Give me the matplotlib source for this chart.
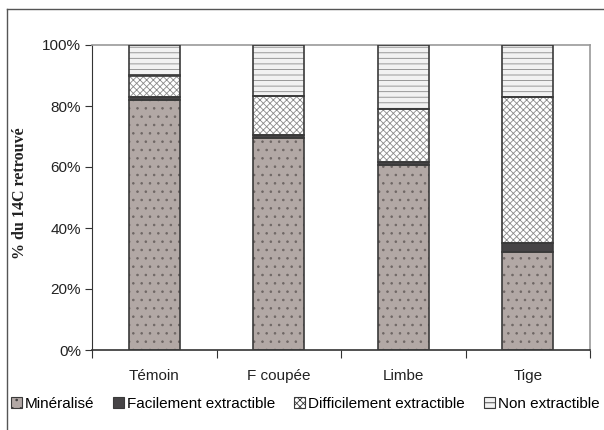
import matplotlib
matplotlib.use('Agg')
import matplotlib.pyplot as plt
from matplotlib.lines import Line2D
from matplotlib.patches import Patch
import numpy as np

categories = ['Témoin', 'F coupée', 'Limbe', 'Tige']
series = ['Minéralisé', 'Facilement extractible', 'Difficilement extractible', 'Non extractible']
mineralise = [82.0, 69.5, 60.5, 32.0]
facile = [1.0, 1.0, 1.0, 3.0]
difficile = [7.0, 12.8, 17.5, 48.0]
non_extr = [10.0, 16.7, 21.0, 17.0]
yticks = [0, 20, 40, 60, 80, 100]

fills = ['#b2a8a5', '#464446', '#ffffff', '#f2f2f2']
hatches = ['..', '', 'xxxxx', '---']
hatch_cols = ['#6e6664', '#464446', '#8a8a8a', '#8a8a8a']

plt.rcParams['font.family'] = ['Liberation Sans', 'DejaVu Sans']
plt.rcParams['hatch.linewidth'] = 0.6

fig = plt.figure(figsize=(6.04, 4.30), dpi=100)
ax = fig.add_axes([92 / 604, 1 - 350 / 430, 498 / 604, 305 / 430])

x = np.arange(len(categories))
width = 0.41
bottom = np.zeros(len(categories))
for vals, fc, h, hc in zip([mineralise, facile, difficile, non_extr], fills, hatches, hatch_cols):
    vals = np.array(vals)
    ax.bar(x, vals, width, bottom=bottom, color=fc, edgecolor=hc, hatch=h, linewidth=0, zorder=2)
    ax.bar(x, vals, width, bottom=bottom, fill=False, edgecolor='#3a3a3a', linewidth=1.2, zorder=3)
    bottom += vals

fs = 11
ax.set_xlim(-0.5, len(categories) - 0.5)
ax.set_ylim(0, 100)
ax.set_yticks(yticks)
ax.set_yticklabels([f'{v}%' for v in yticks], fontsize=fs, color='#222222')
ax.set_xticks(np.arange(-0.5, len(categories), 1.0))
ax.set_xticklabels([])
ax.set_xticks(x, minor=True)
ax.set_xticklabels(categories, minor=True, fontsize=fs, color='#222222')
ax.tick_params(axis='x', which='minor', length=0, pad=14)
ax.tick_params(axis='x', which='major', length=6, direction='out', color='#333333')
ax.tick_params(axis='y', length=5, direction='out', color='#333333', pad=3)

for side in ['top', 'right']:
    ax.spines[side].set_color('#999999')
    ax.spines[side].set_linewidth(1.2)
ax.spines['left'].set_color('#333333')
ax.spines['bottom'].set_color('#333333')
ax.spines['bottom'].set_linewidth(1.2)

fig.text(20 / 604, 1 - 193 / 430, '% du 14C retrouvé', rotation=90, va='center', ha='center',
         fontsize=11.5, fontweight='bold', family=['Liberation Serif', 'DejaVu Serif'], color='#222222')

handles = [Patch(facecolor=fc, edgecolor='#3a3a3a', hatch=h, linewidth=0.8)
           for fc, h in zip(fills, hatches)]
fig.legend(handles, series, loc='center', bbox_to_anchor=(0.505, 1 - 404 / 430), ncol=4,
           frameon=False, fontsize=fs, handlelength=0.7, handleheight=0.7, handletextpad=0.2,
           columnspacing=1.25, borderaxespad=0)

# outer chart frame (cut at right and bottom)
fig.add_artist(Line2D([7 / 604, 7 / 604], [0, 1 - 9 / 430], color='#555555', linewidth=1.0))
fig.add_artist(Line2D([7 / 604, 1], [1 - 9 / 430, 1 - 9 / 430], color='#555555', linewidth=1.0))

fig.savefig('out.png', dpi=100)
